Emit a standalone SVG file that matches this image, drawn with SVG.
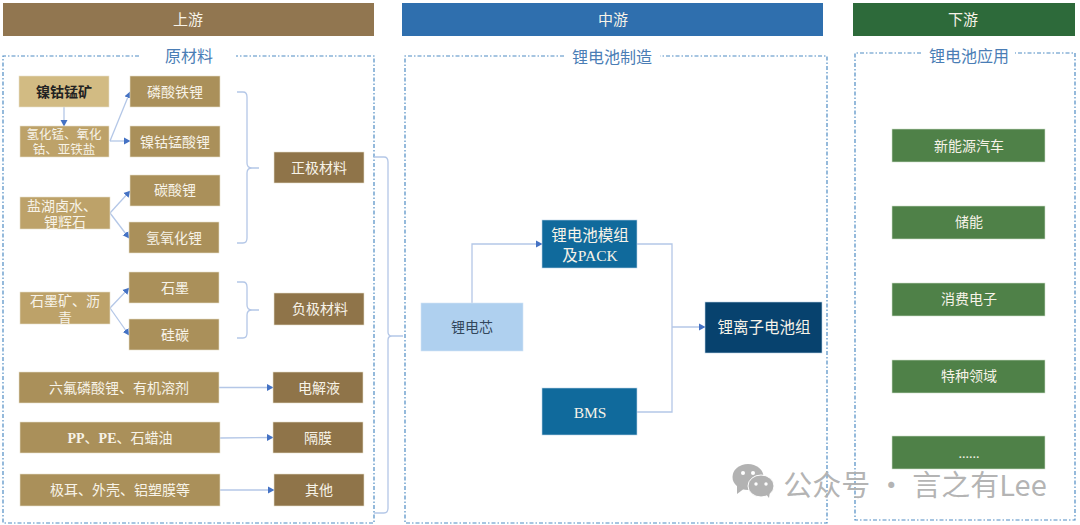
<svg xmlns="http://www.w3.org/2000/svg" width="1080" height="525" viewBox="0 0 1080 525">
<style>
text{font-family:"Liberation Serif","Noto Sans CJK SC",serif;text-anchor:middle;dominant-baseline:central;font-size:14px;fill:#f7f3e8}
.hd{font-size:15px}
.sec{font-size:16px;fill:#4a7db5}
.box{fill:none;stroke:#4f8cc4;stroke-width:1.200;stroke-dasharray:4 2 1.500 2}
.c{fill:none;stroke:#b4c7e7;stroke-width:1.300}
.a{marker-end:url(#arr)}
.lt{fill:#aa905a;stroke:#e8e0cc;stroke-width:.6}
.md{fill:#bda269;stroke:#e8e0cc;stroke-width:.6}
.pale{fill:#d2bb83;stroke:#e8e0cc;stroke-width:.6}
.dk{fill:#8f7449;stroke:#e8e0cc;stroke-width:.6}
.bl{fill:#106a9c;stroke:#bcd3e6;stroke-width:.6}
.g{fill:#4f8148;stroke:#cfe0cb;stroke-width:.6}
</style>
<defs><marker id="arr" markerUnits="userSpaceOnUse" markerWidth="7" markerHeight="8" refX="6" refY="4" orient="auto"><path d="M0 0.5L6.5 4L0 7.5Z" fill="#4472c4"/></marker></defs>

<g id="section-frames">
<rect x="3" y="3" width="371" height="33" fill="#917650"/>
<text class="hd" x="188" y="20">上游</text>
<rect x="402" y="3" width="421" height="33" fill="#2f6fae"/>
<text class="hd" x="613" y="20">中游</text>
<rect x="853" y="3" width="222" height="33" fill="#2d6a3a"/>
<text class="hd" x="963" y="20">下游</text>
<path class="box" d="M139 56H3V523H374V56H236"/>
<text class="sec" x="189" y="56">原材料</text>
<path class="box" d="M564 56H405V523H827V56H660"/>
<text class="sec" x="612" y="57">锂电池制造</text>
<path class="box" d="M921 53H855V520H1075V53H1015"/>
<text class="sec" x="969" y="56">锂电池应用</text>
</g>

<g id="connectors">
<path class="c a" d="M64 107V126"/>
<path class="c a" d="M110 141L130 92"/>
<path class="c a" d="M110 141H130"/>
<path class="c a" d="M110 213L130 191"/>
<path class="c a" d="M110 213L129 238"/>
<path class="c a" d="M110 308L129 288"/>
<path class="c a" d="M110 308L129 335"/>
<path class="c a" d="M219 387.500H273"/>
<path class="c a" d="M220 438L273 437.500"/>
<path class="c a" d="M220 490H274"/>
<path class="c" d="M237 92H243Q247 92 247 97V163Q247 168 252 168H259M252 168Q247 168 247 173V238Q247 243 243 243H237"/>
<path class="c" d="M237 282H243Q247 282 247 287V305Q247 310 252 310H259M252 310Q247 310 247 315V333Q247 338 243 338H237"/>
<path class="c" d="M374 157H384Q388 157 388 162V332Q388 336 392 336H403M392 336Q388 336 388 340V508Q388 513 384 513H374"/>
<path class="c a" d="M472 303V244H542"/>
<path class="c" d="M637 244H672V412H637"/>
<path class="c a" d="M672 327H705"/>
</g>

<g id="n1"><rect class="pale" x="19" y="76" width="90" height="31"/><text x="64" y="92" style="fill:#222;font-weight:bold">镍钴锰矿</text></g>
<g id="n2"><rect class="md" x="20" y="126" width="89" height="31"/><text x="64" y="135" style="font-size:12.500px">氢化锰、氧化</text><text x="64" y="150" style="font-size:12.500px">钴、亚铁盐</text></g>
<g id="n3"><rect class="lt" x="130" y="76" width="90" height="31"/><text x="175" y="92">磷酸铁锂</text></g>
<g id="n4"><rect class="lt" x="130" y="126" width="90" height="31"/><text x="175" y="142">镍钴锰酸锂</text></g>
<g id="n5"><rect class="lt" x="130" y="175" width="90" height="31"/><text x="175" y="190">碳酸锂</text></g>
<g id="n6"><rect class="lt" x="129" y="222" width="90" height="31"/><text x="174" y="238">氢氧化锂</text></g>
<g id="n7"><rect class="md" x="20" y="197" width="90" height="32"/><text x="62" y="206">盐湖卤水、</text><text x="65" y="222">锂辉石</text></g>
<g id="n8"><rect class="dk" x="274" y="152" width="90" height="31"/><text x="319" y="168">正极材料</text></g>
<g id="n9"><rect class="md" x="20" y="292" width="90" height="32"/><text x="65" y="301">石墨矿、沥</text><text x="65" y="318">青</text></g>
<g id="n10"><rect class="lt" x="129" y="272" width="90" height="31"/><text x="175" y="288">石墨</text></g>
<g id="n11"><rect class="lt" x="129" y="319" width="90" height="31"/><text x="175" y="335">硅碳</text></g>
<g id="n12"><rect class="dk" x="274" y="293" width="90" height="32"/><text x="320" y="309">负极材料</text></g>
<g id="n13"><rect class="lt" x="19" y="372" width="200" height="31"/><text x="119" y="388">六氟磷酸锂、有机溶剂</text></g>
<g id="n14"><rect class="dk" x="273" y="372" width="90" height="31"/><text x="319" y="388">电解液</text></g>
<g id="n15"><rect class="lt" x="20" y="422" width="200" height="31"/><text x="120" y="438"><tspan font-weight="bold">PP</tspan>、<tspan font-weight="bold">PE</tspan>、石蜡油</text></g>
<g id="n16"><rect class="dk" x="273" y="422" width="90" height="31"/><text x="318" y="438">隔膜</text></g>
<g id="n17"><rect class="lt" x="20" y="474" width="200" height="32"/><text x="120" y="490">极耳、外壳、铝塑膜等</text></g>
<g id="n18"><rect class="dk" x="274" y="474" width="90" height="32"/><text x="319" y="490">其他</text></g>

<g id="n19"><rect x="421" y="303" width="102" height="48" fill="#afd0ef" stroke="#d3e4f5" stroke-width=".6"/><text x="472" y="327" style="fill:#33475c">锂电芯</text></g>
<g id="n20"><rect class="bl" x="542" y="220" width="95" height="48"/><text x="590" y="235" style="font-size:15.500px">锂电池模组</text><text x="590" y="255" style="font-size:15.500px">及PACK</text></g>
<g id="n21"><rect class="bl" x="542" y="388" width="95" height="47"/><text x="590" y="412" style="font-size:15.500px">BMS</text></g>
<g id="n22"><rect x="705" y="302" width="117" height="51" fill="#07426e" stroke="#bcd3e6" stroke-width=".6"/><text x="764" y="327" style="font-size:15.500px">锂离子电池组</text></g>

<g id="n23"><rect class="g" x="892" y="129" width="153" height="33"/><text x="969" y="146">新能源汽车</text></g>
<g id="n24"><rect class="g" x="892" y="206" width="153" height="33"/><text x="969" y="222">储能</text></g>
<g id="n25"><rect class="g" x="892" y="283" width="153" height="33"/><text x="969" y="299">消费电子</text></g>
<g id="n26"><rect class="g" x="892" y="360" width="153" height="33"/><text x="969" y="376">特种领域</text></g>
<g id="n27"><rect class="g" x="892" y="436" width="153" height="33"/><text x="969" y="453">......</text></g>

<g id="watermark">
<ellipse cx="748" cy="477" rx="15.500" ry="13" fill="#b2b2b2"/>
<path d="M737 485L737 494L745 488Z" fill="#b2b2b2"/>
<ellipse cx="761" cy="486" rx="13" ry="11" fill="#b2b2b2" stroke="#fff" stroke-width="1"/>
<path d="M766 494L769 498L770 491Z" fill="#b2b2b2"/>
<circle cx="743" cy="473" r="2" fill="#fff"/><circle cx="753" cy="473" r="2" fill="#fff"/>
<circle cx="756" cy="484" r="1.700" fill="#fff"/><circle cx="766" cy="484" r="1.700" fill="#fff"/>
<text x="915" y="483" style="font-family:'Noto Sans CJK SC','Noto Sans',sans-serif;font-size:29px;fill:#b0b0b0;fill-opacity:.95">公众号 · 言之有Lee</text>
</g>
</svg>
